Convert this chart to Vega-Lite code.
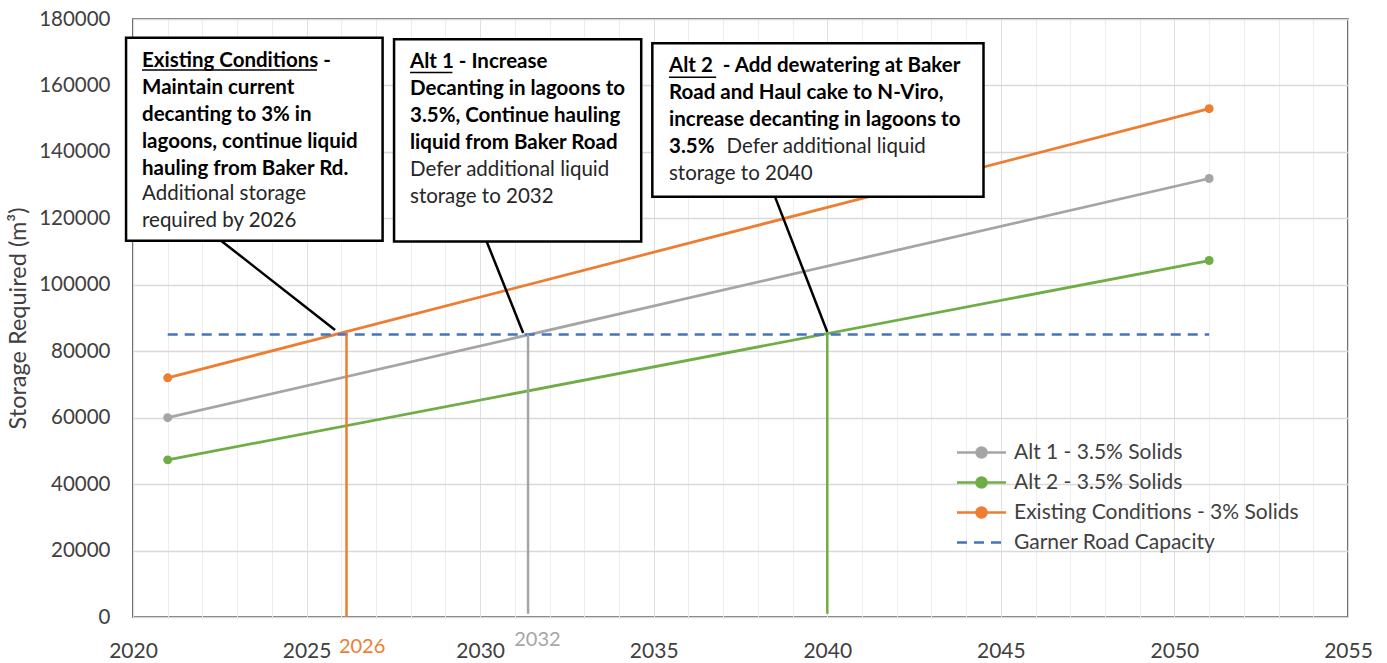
{
  "$schema": "https://vega.github.io/schema/vega-lite/v6.json",
  "width": 1215,
  "height": 598,
  "autosize": {"type": "none"},
  "padding": {"left": 133, "top": 19, "right": 39, "bottom": 46},
  "background": "white",
  "config": {"font": "Lato", "view": {"stroke": "#404040", "strokeWidth": 1.5}},
  "datasets": {
    "series": [
      {"series": "Alt 1 - 3.5% Solids", "year": 2021, "storage": 60000},
      {"series": "Alt 1 - 3.5% Solids", "year": 2051, "storage": 132000},
      {"series": "Alt 2 - 3.5% Solids", "year": 2021, "storage": 47300},
      {"series": "Alt 2 - 3.5% Solids", "year": 2051, "storage": 107300},
      {"series": "Existing Conditions - 3% Solids", "year": 2021, "storage": 72000},
      {"series": "Existing Conditions - 3% Solids", "year": 2051, "storage": 153000}
    ],
    "capacity": [
      {"series": "Garner Road Capacity", "year": 2021, "storage": 85000},
      {"series": "Garner Road Capacity", "year": 2051, "storage": 85000}
    ],
    "drops": [
      {"series": "Existing Conditions - 3% Solids", "year": 2026.15, "low": 0, "high": 85000},
      {"series": "Alt 1 - 3.5% Solids", "year": 2031.38, "low": 1000, "high": 85000},
      {"series": "Alt 2 - 3.5% Solids", "year": 2040, "low": 1000, "high": 85000}
    ],
    "leaders": [
      {"x": 2022.51, "y": 113500, "x2": 2025.82, "y2": 86400},
      {"x": 2030.17, "y": 113500, "x2": 2031.24, "y2": 85500},
      {"x": 2038.5, "y": 126300, "x2": 2040.0, "y2": 85800}
    ],
    "boxes": [
      {"x": 2019.8, "x2": 2027.19, "y": 174370, "y2": 113270},
      {"x": 2027.52, "x2": 2034.64, "y": 173880, "y2": 113000},
      {"x": 2034.96, "x2": 2044.5, "y": 172700, "y2": 126500}
    ],
    "underlines": [
      {"x": 2020.26, "x2": 2025.3, "y": 164650},
      {"x": 2027.98, "x2": 2029.2, "y": 163900},
      {"x": 2035.44, "x2": 2036.8, "y": 162450}
    ],
    "boldText": [
      {"x": 2020.26, "y": 165640, "t": "Existing Conditions -|Maintain current|decanting to 3% in|lagoons, continue liquid|hauling from Baker Rd."},
      {"x": 2027.98, "y": 165340, "t": "Alt 1 - Increase|Decanting in lagoons to|3.5%, Continue hauling|liquid from Baker Road"},
      {"x": 2035.44, "y": 164130, "t": "Alt 2\u00a0 - Add dewatering at Baker|Road and Haul cake to N-Viro,|increase decanting in lagoons to|3.5%"}
    ],
    "plainText": [
      {"x": 2020.26, "y": 125450, "t": "Additional storage|required by 2026"},
      {"x": 2027.98, "y": 132740, "t": "Defer additional liquid|storage to 2032"},
      {"x": 2037.1, "y": 139750, "t": "Defer additional liquid"},
      {"x": 2035.44, "y": 131630, "t": "storage to 2040"}
    ],
    "extraLabels": [
      {"series": "Existing Conditions - 3% Solids", "year": 2026.6, "y": -10690, "t": "2026"},
      {"series": "Alt 1 - 3.5% Solids", "year": 2031.65, "y": -8580, "t": "2032"}
    ]
  },
  "resolve": {"axis": {"x": "independent", "y": "independent"}},
  "layer": [
    {
      "data": {"name": "series"},
      "mark": {"type": "line", "strokeWidth": 2.75},
      "encoding": {
        "x": {
          "field": "year", "type": "quantitative",
          "scale": {"domain": [2020, 2055], "nice": false, "zero": false},
          "axis": {"orient": "top", "values": [2020,2021,2022,2023,2024,2025,2026,2027,2028,2029,2030,2031,2032,2033,2034,2035,2036,2037,2038,2039,2040,2041,2042,2043,2044,2045,2046,2047,2048,2049,2050,2051,2052,2053,2054,2055],
                   "grid": true, "gridColor": "#EDEDED", "gridWidth": 1, "labels": false, "ticks": false, "domain": false, "title": null}
        },
        "y": {
          "field": "storage", "type": "quantitative",
          "scale": {"domain": [0, 180000], "nice": false},
          "axis": {"title": "Storage Required (m³)", "values": [0,20000,40000,60000,80000,100000,120000,140000,160000,180000], "format": "d",
                   "grid": true, "gridColor": "#D9D9D9", "gridWidth": 1.3, "ticks": false, "tickSize": 0, "domain": false, "labelFlush": false,
                   "labelFont": "Lato", "labelFontSize": 20.5, "labelColor": "#404040", "labelPadding": 23,
                   "titleFont": "Lato", "titleFontSize": 23.5, "titleFontWeight": "normal", "titleColor": "#404040", "titlePadding": 8}
        },
        "color": {
          "field": "series", "type": "nominal",
          "scale": {"domain": ["Alt 1 - 3.5% Solids", "Alt 2 - 3.5% Solids", "Existing Conditions - 3% Solids", "Garner Road Capacity"],
                    "range": ["#A5A5A5", "#70AD47", "#ED7D31", "#4472C4"]},
          "legend": {
            "orient": "none", "legendX": 837, "legendY": 422, "title": null, "padding": 0,
            "labelFont": "Lato", "labelFontSize": 21, "labelColor": "#404040", "labelOffset": 21, "rowPadding": 8, "labelLimit": 500,
            "symbolSize": 400, "symbolStrokeWidth": 2.5,
            "encode": {
              "symbols": {
                "update": {
                  "shape": {"signal": "datum.value === 'Garner Road Capacity' ? 'M-2.45,0H2.45' : 'M-2.45,0H2.45M-0.5,0A0.5,0.5,0,1,1,0.5,0A0.5,0.5,0,1,1,-0.5,0'"},
                  "fill": {"signal": "datum.value === 'Garner Road Capacity' ? 'transparent' : scale('color', datum.value)"},
                  "stroke": {"signal": "scale('color', datum.value)"},
                  "strokeDash": {"signal": "datum.value === 'Garner Road Capacity' ? [10,7] : [100,0]"},
                  "strokeWidth": {"value": 2.5},
                  "size": {"value": 400},
                  "opacity": {"value": 1}
                }
              }
            }
          }
        }
      }
    },
    {
      "data": {"name": "capacity"},
      "mark": {"type": "line", "strokeWidth": 2.5, "strokeDash": [10, 7]},
      "encoding": {
        "x": {
          "field": "year", "type": "quantitative",
          "axis": {"orient": "bottom", "values": [2020,2025,2030,2035,2040,2045,2050,2055], "format": "d", "labelFlush": false,
                   "grid": true, "gridColor": "#E0E0E0", "gridWidth": 1, "ticks": false, "tickSize": 0, "domain": false,
                   "labelFont": "Lato", "labelFontSize": 21, "labelColor": "#404040", "labelPadding": 23, "title": null}
        },
        "y": {"field": "storage", "type": "quantitative", "axis": null},
        "color": {"field": "series", "type": "nominal", "legend": null}
      }
    },
    {
      "data": {"name": "drops"},
      "mark": {"type": "rule", "strokeWidth": 2.5},
      "encoding": {
        "x": {"field": "year", "type": "quantitative", "axis": null},
        "y": {"field": "low", "type": "quantitative", "axis": null},
        "y2": {"field": "high"},
        "color": {"field": "series", "type": "nominal", "legend": null}
      }
    },
    {
      "data": {"name": "series"},
      "mark": {"type": "point", "filled": true, "size": 80, "opacity": 1},
      "encoding": {
        "x": {"field": "year", "type": "quantitative", "axis": null},
        "y": {"field": "storage", "type": "quantitative", "axis": null},
        "color": {"field": "series", "type": "nominal", "legend": null}
      }
    },
    {
      "data": {"name": "leaders"},
      "mark": {"type": "rule", "strokeWidth": 2.5, "color": "#000000"},
      "encoding": {
        "x": {"field": "x", "type": "quantitative", "axis": null},
        "y": {"field": "y", "type": "quantitative", "axis": null},
        "x2": {"field": "x2"},
        "y2": {"field": "y2"}
      }
    },
    {
      "data": {"name": "boxes"},
      "mark": {"type": "rect", "fill": "#FFFFFF", "stroke": "#000000", "strokeWidth": 2.5},
      "encoding": {
        "x": {"field": "x", "type": "quantitative", "axis": null},
        "x2": {"field": "x2"},
        "y": {"field": "y", "type": "quantitative", "axis": null},
        "y2": {"field": "y2"}
      }
    },
    {
      "data": {"name": "underlines"},
      "mark": {"type": "rule", "strokeWidth": 1.5, "color": "#000000"},
      "encoding": {
        "x": {"field": "x", "type": "quantitative", "axis": null},
        "x2": {"field": "x2"},
        "y": {"field": "y", "type": "quantitative", "axis": null}
      }
    },
    {
      "data": {"name": "boldText"},
      "mark": {"type": "text", "font": "Lato", "fontSize": 20.5, "fontWeight": "bold", "align": "left", "baseline": "alphabetic", "lineBreak": "|", "lineHeight": 27, "color": "#000000"},
      "encoding": {
        "x": {"field": "x", "type": "quantitative", "axis": null},
        "y": {"field": "y", "type": "quantitative", "axis": null},
        "text": {"field": "t"}
      }
    },
    {
      "data": {"name": "plainText"},
      "mark": {"type": "text", "font": "Lato", "fontSize": 20.5, "fontWeight": "normal", "align": "left", "baseline": "alphabetic", "lineBreak": "|", "lineHeight": 27, "color": "#262626"},
      "encoding": {
        "x": {"field": "x", "type": "quantitative", "axis": null},
        "y": {"field": "y", "type": "quantitative", "axis": null},
        "text": {"field": "t"}
      }
    },
    {
      "data": {"name": "extraLabels"},
      "mark": {"type": "text", "font": "Lato", "fontSize": 20, "align": "center", "baseline": "alphabetic"},
      "encoding": {
        "x": {"field": "year", "type": "quantitative", "axis": null},
        "y": {"field": "y", "type": "quantitative", "axis": null},
        "text": {"field": "t"},
        "color": {"field": "series", "type": "nominal", "legend": null}
      }
    }
  ]
}
